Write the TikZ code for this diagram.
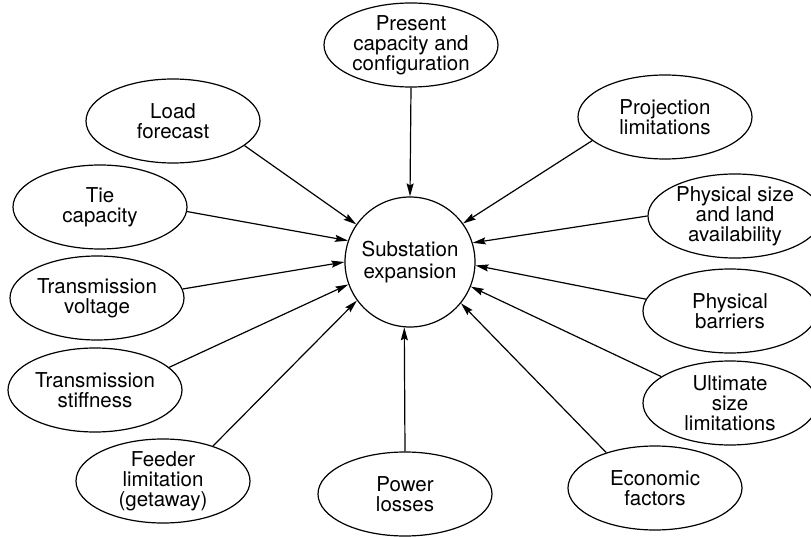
\documentclass[tikz,border=0pt]{standalone}
\usepackage{fontspec}
\setmainfont{TeX Gyre Heros}
\usetikzlibrary{shapes.geometric,arrows.meta}
\begin{document}
\begin{tikzpicture}[x=1pt,y=-1pt,
  factor/.style={ellipse,draw,line width=1.2pt,minimum width=174pt,minimum height=84pt,inner sep=0pt,align=center,font=\fontsize{20.5}{20}\selectfont},
  hub/.style={circle,draw,line width=1.2pt,minimum size=130pt,inner sep=0pt,align=center,font=\fontsize{20.5}{22}\selectfont},
  arr/.style={line width=1.2pt,-{Stealth[length=13pt,width=7pt,inset=2pt]}}]
\useasboundingbox (0,0) rectangle (811,537);
\node[hub] (c) at (410,262) {Substation\\expansion};
\node[factor] (present) at (411,45) {Present\\capacity and\\configuration};
\node[factor] (load) at (173,121) {Load\\forecast};
\node[factor] (tie) at (100,207) {Tie\\capacity};
\node[factor] (tvolt) at (97,298) {Transmission\\voltage};
\node[factor] (tstiff) at (95,390) {Transmission\\stiffness};
\node[factor] (feeder) at (163,481) {Feeder\\limitation\\(getaway)};
\node[factor] (power) at (405,494) {Power\\losses};
\node[factor] (econ) at (655,488) {Economic\\factors};
\node[factor] (ult) at (730,403) {Ultimate\\size\\limitations};
\node[factor] (barr) at (730,311) {Physical\\barriers};
\node[factor] (phys) at (735,216) {Physical size\\and land\\availability};
\node[factor] (proj) at (665,117) {Projection\\limitations};
\draw[arr] (present.270) -- (c.90);
\draw[arr] (load.-19) -- (c.145);
\draw[arr] (tie.-3) -- (c.161);
\draw[arr] (tvolt.6) -- (c.180);
\draw[arr] (tstiff.17) -- (c.200);
\draw[arr] (feeder.35) -- (c.216);
\draw[arr] (power.90) -- (c.265);
\draw[arr] (econ.144) -- (c.-39);
\draw[arr] (ult.159) -- (c.-22);
\draw[arr] (barr.172) -- (c.-3);
\draw[arr] (phys.180) -- (c.17);
\draw[arr] (proj.198) -- (c.36);
\end{tikzpicture}
\end{document}
